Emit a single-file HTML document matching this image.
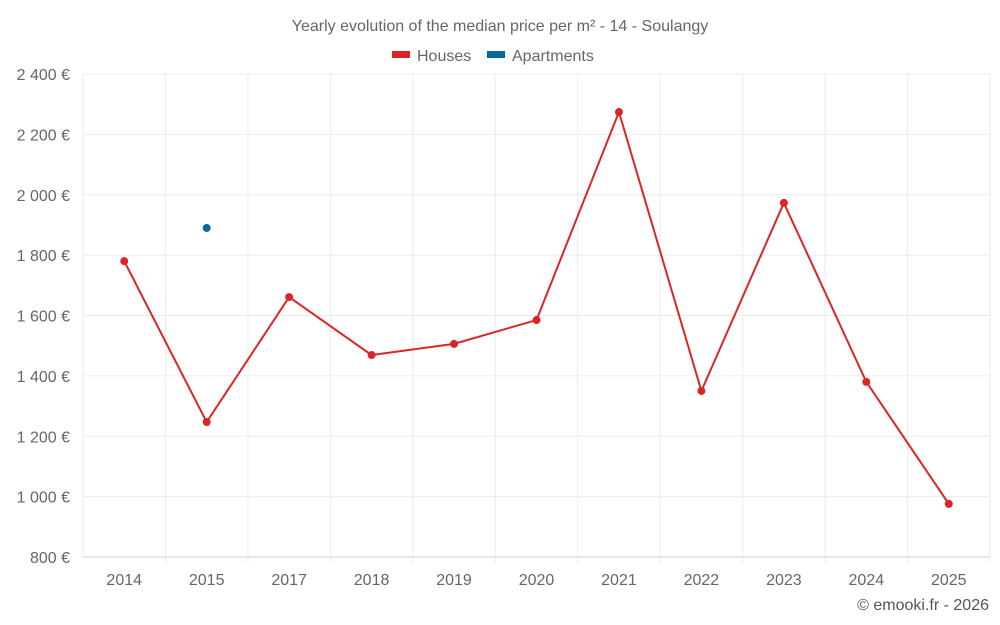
<!DOCTYPE html>
<html><head><meta charset="utf-8"><style>
body{margin:0;background:#fff;}
svg{display:block;font-family:"Liberation Sans",sans-serif;}
</style></head><body>
<svg id="c" width="1000" height="625">
<text x="500" y="31" text-anchor="middle" font-size="16" fill="#666">Yearly evolution of the median price per m² - 14 - Soulangy</text>
<g>
<rect x="392" y="51" width="18" height="7" fill="#dc2626"/>
<text x="417" y="61" font-size="16" fill="#666">Houses</text>
<rect x="487" y="51" width="18" height="7" fill="#0369a1"/>
<text x="512" y="61" font-size="16" fill="#666">Apartments</text>
</g>
<g id="grid"></g><g id="marks"></g>
<text x="989" y="610" text-anchor="end" font-size="16" fill="#555">© emooki.fr - 2026</text>
</svg>
<script>
const categories=["2014","2015","2017","2018","2019","2020","2021","2022","2023","2024","2025"];
const houses=[1780,1247,1661,1469,1506,1585,2274,1350,1973,1380,976];
const apartments=[null,1890,null,null,null,null,null,null,null,null,null];
const yTicks=[800,1000,1200,1400,1600,1800,2000,2200,2400];
const L=83,R=990,T=74,B=557,ymin=800,ymax=2400;
const ns="http://www.w3.org/2000/svg";
const bw=(R-L)/categories.length;
const x=i=>L+bw*(i+0.5);
const y=v=>B-(v-ymin)/(ymax-ymin)*(B-T);
const g=document.getElementById('grid'),m=document.getElementById('marks');
function mk(p,tag,a){const e=document.createElementNS(ns,tag);for(const k in a)e.setAttribute(k,a[k]);p.appendChild(e);return e;}
yTicks.forEach(v=>{
 const l=mk(g,'line',{x1:L,x2:R,y1:y(v),y2:y(v),stroke:v===ymin?'#ccc':'#ebebeb'});
 
 
 const t=mk(g,'text',{x:70,y:y(v)+6,'text-anchor':'end','font-size':16,fill:'#666'});
 t.textContent=v.toLocaleString('en').replace(',',' ')+' €';
 
 
});
for(let i=0;i<=categories.length;i++){
 const l=mk(g,'line',{x1:L+bw*i,x2:L+bw*i,y1:T,y2:B+(i>0?6:0),stroke:'#ebebeb'});
 
 
}
categories.forEach((c,i)=>{
 const t=mk(g,'text',{x:x(i),y:585,'text-anchor':'middle','font-size':16,fill:'#666'});
 t.textContent=c;
 
 
});
const pl=mk(m,'polyline',{points:houses.map((v,i)=>x(i)+','+y(v)).join(' '),fill:'none',stroke:'#dc2626','stroke-width':2});


houses.forEach((v,i)=>{
 const c=mk(m,'circle',{cx:x(i),cy:y(v),r:4,fill:'#dc2626'});
 
 
});
apartments.forEach((v,i)=>{if(v==null)return;
 const c=mk(m,'circle',{cx:x(i),cy:y(v),r:4,fill:'#0369a1'});
 
 
});
</script>
</body></html>
